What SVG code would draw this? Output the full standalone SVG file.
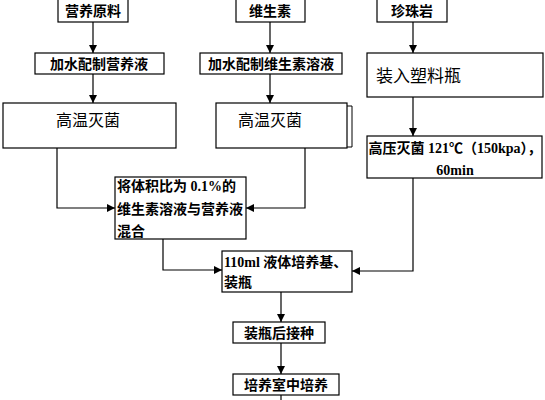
<svg xmlns="http://www.w3.org/2000/svg" width="545" height="400" viewBox="0 0 545 400">
<defs>
<marker id="ah" viewBox="0 0 10 10" refX="10" refY="5" markerWidth="8" markerHeight="8" markerUnits="userSpaceOnUse" orient="auto">
<path d="M0,0 L10,5 L0,10 z" fill="#000"/>
</marker>
</defs>
<style>
rect{fill:#fff;stroke:#000;stroke-width:1.2}
text{font-family:"Liberation Serif","Noto Sans CJK SC",serif;fill:#000;font-size:14px}
.c{text-anchor:middle}
.b{font-weight:bold}
.big{font-size:16px}
.big2{font-size:17px}
#edges path{fill:none;stroke:#000;stroke-width:1.2;marker-end:url(#ah)}
#edges path.n{marker-end:none}
</style>
<rect x="0" y="0" width="545" height="400" style="stroke:none"/>
<g id="edges">
<path d="M93,22 V53"/>
<path d="M93,74 V103"/>
<path d="M270,22 V53"/>
<path d="M270,74 V103"/>
<path d="M413,22 V53"/>
<path d="M413,97 V136"/>
<path d="M57,148 V208 H115"/>
<path d="M305,148 V208 H246"/>
<path d="M163,239 V270 H222"/>
<path d="M413,178 V271 H352"/>
<path d="M281,292 V322"/>
<path d="M281,343 V374"/>
<path class="n" d="M281,395 V400"/>
</g>
<g id="n1"><rect x="58" y="-1" width="70" height="23"/><text class="c b" x="93" y="16">营养原料</text></g>
<g id="n2"><rect x="236" y="-1" width="69" height="23"/><text class="c b" x="270" y="16">维生素</text></g>
<g id="n3"><rect x="377" y="-1" width="70" height="23"/><text class="c b" x="412" y="16">珍珠岩</text></g>
<g id="n4"><rect x="35" y="53" width="129" height="21"/><text class="c b" x="99" y="69">加水配制营养液</text></g>
<g id="n5"><rect x="200" y="53" width="142" height="21"/><text class="c b" x="271" y="69">加水配制维生素溶液</text></g>
<g id="n6"><rect x="367" y="53" width="176" height="44"/><text class="big2" x="376" y="82">装入塑料瓶</text></g>
<g id="n7"><rect x="3" y="103" width="173" height="45"/><text class="c big" x="88" y="126">高温灭菌</text></g>
<g id="n8"><rect x="216" y="103" width="131" height="45"/><path d="M347,106 H352 V147 H347" fill="none" stroke="#000" stroke-width="1"/><text class="c big" x="270" y="126">高温灭菌</text></g>
<g id="n9"><rect x="367" y="136" width="175" height="42"/><text class="c b" x="455" y="153">高压灭菌 121℃（150kpa），</text><text class="c b" x="455" y="175">60min</text></g>
<g id="n10"><rect x="115" y="177" width="131" height="62"/><text class="b" x="117" y="191">将体积比为 0.1%的</text><text class="b" x="117" y="214">维生素溶液与营养液</text><text class="b" x="117" y="236">混合</text></g>
<g id="n11"><rect x="222" y="251" width="130" height="41"/><text class="b" x="224" y="267">110ml 液体培养基、</text><text class="b" x="224" y="287">装瓶</text></g>
<g id="n12"><rect x="233" y="322" width="92" height="21"/><text class="c b" x="279" y="338">装瓶后接种</text></g>
<g id="n13"><rect x="233" y="374" width="106" height="21"/><text class="c b" x="286" y="390">培养室中培养</text></g>
</svg>
